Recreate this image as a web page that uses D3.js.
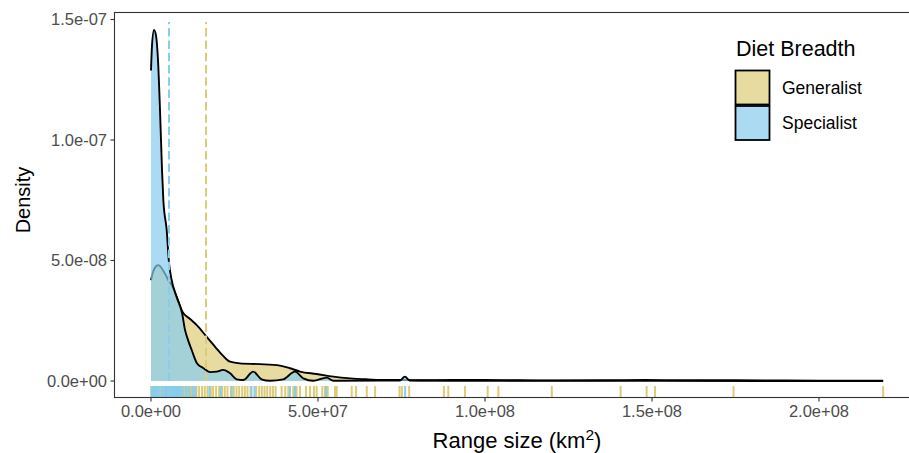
<!DOCTYPE html>
<html>
<head>
<meta charset="utf-8">
<script src="https://cdn.jsdelivr.net/npm/d3@7"></script>
<style>
  html, body { margin: 0; padding: 0; background: #fff; }
  svg { display: block; font-family: "Liberation Sans", Arial, Helvetica, sans-serif; }
</style>
</head>
<body>
<svg id="chart" width="909" height="453"></svg>
<script>
// ---- Data (x in 1e6 km^2, density in 1e-8) ----
const seriesNames = ["Generalist", "Specialist"];
const seriesColors = ["#DDCC77", "#88CCEE"];

const generalistX = [0, 0.6, 1.5, 2.2, 3.0, 3.9, 4.6, 5.2, 6.2, 7.7, 9.3, 11.7, 13.7, 16.5, 19.2, 21.6, 23.7, 26.6, 32.6, 38.6, 41.6, 44.6, 49.6, 54.6, 59.6, 64.6, 69.5, 74.5, 80, 90, 100, 110, 120, 135, 148, 160, 175, 190, 205, 219.2];
const generalistY = [4.18, 4.52, 4.76, 4.81, 4.72, 4.52, 4.35, 4.18, 3.98, 3.48, 2.90, 2.57, 2.32, 1.86, 1.42, 1.04, 0.80, 0.73, 0.70, 0.64, 0.53, 0.39, 0.29, 0.18, 0.11, 0.07, 0.045, 0.04, 0.03, 0.045, 0.04, 0.03, 0.025, 0.03, 0.045, 0.03, 0.03, 0.02, 0.015, 0.01];

const specialistX = [0, 0.3, 0.9, 1.5, 2.1, 2.7, 3.3, 3.7, 4.7, 5.4, 6.2, 7.7, 9.3, 10.2, 10.9, 12.2, 13.7, 15.6, 17.7, 19.7, 21.6, 23.7, 25.7, 27.6, 30.6, 33.1, 35.6, 39.6, 43.1, 45.6, 48.6, 52.6, 54.6, 74.5, 76.0, 77.5, 89.5, 219.2];
const specialistY = [12.88, 13.92, 14.57, 14.33, 13.30, 11.23, 8.74, 7.50, 6.26, 4.89, 4.18, 3.48, 2.82, 2.11, 1.78, 1.28, 0.75, 0.54, 0.37, 0.39, 0.46, 0.32, 0.07, 0.04, 0.39, 0.07, 0.01, 0.07, 0.39, 0.11, 0.01, 0.14, 0.01, 0.02, 0.18, 0.02, 0.01, 0.0];

const generalistRug = [0.1, 0.4, 0.9, 1.3, 1.8, 2.5, 3.1, 3.8, 4.4, 5.2, 6.0, 6.9, 7.7, 8.6, 9.4, 10.3, 11.1, 12.0, 12.9, 13.6, 14.4, 15.3, 16.1, 16.9, 17.9, 18.6, 19.5, 20.4, 21.3, 22.1, 22.9, 23.9, 24.8, 25.6, 26.4, 27.3, 28.1, 28.9, 29.8, 31.5, 32.4, 33.2, 34.0, 34.8, 35.7, 36.5, 37.3, 39.1, 40.2, 41.1, 42.6, 43.6, 44.6, 46.4, 47.6, 48.8, 49.6, 51.3, 52.1, 52.9, 55.1, 55.6, 60.1, 61.4, 64.6, 67.1, 74.4, 75.1, 77.3, 87.7, 89.0, 94.0, 100.8, 104.0, 120.0, 140.6, 148.4, 150.9, 174.4, 219.2];
const specialistRug = [0.2, 0.6, 1.0, 1.5, 2.0, 2.6, 3.3, 4.0, 4.3, 4.7, 4.9, 5.5, 5.8, 6.3, 6.6, 7.0, 7.3, 7.5, 8.0, 8.2, 8.6, 9.0, 9.8, 10.6, 11.5, 12.5, 13.3, 17.5, 20.9, 24.2, 30.1, 31.0, 41.6, 43.1, 52.4, 76.1];

const meanValues = [16.47, 5.39];   // dashed reference lines (1e6 km^2)
const xTicks = [0, 50, 100, 150, 200];          // 1e6 km^2
const yTicks = [0, 5, 10, 15];                  // 1e-8

// ---- Scales ----
const svg = d3.select("#chart");
const x = d3.scaleLinear().domain([0, 200]).range([151, 819]);
const y = d3.scaleLinear().domain([0, 15]).range([381, 19.5]);

const panel = { left: 114.5, top: 12.5, right: 930, bottom: 397.5 };

function sci(v) {
  let s = d3.format(".1e")(v);
  return s.replace(/e([+-])(\d)$/, "e$10$2");
}

svg.append("rect").attr("x", panel.left).attr("y", panel.top)
  .attr("width", panel.right - panel.left).attr("height", panel.bottom - panel.top)
  .attr("fill", "#fff");

svg.append("clipPath").attr("id", "pclip").append("rect")
  .attr("x", panel.left).attr("y", panel.top)
  .attr("width", panel.right - panel.left).attr("height", panel.bottom - panel.top);

const g = svg.append("g").attr("clip-path", "url(#pclip)");

const curves = [
  { xs: generalistX, ys: generalistY },
  { xs: specialistX, ys: specialistY }
];

const area = d3.area().curve(d3.curveMonotoneX)
  .x(d => x(d[0])).y0(y(0)).y1(d => y(d[1]));
const line = d3.line().curve(d3.curveMonotoneX)
  .x(d => x(d[0])).y(d => y(d[1]));

curves.forEach((c, i) => {
  const pts = c.xs.map((v, j) => [v, c.ys[j]]);
  g.append("path").attr("d", area(pts))
    .attr("fill", seriesColors[i]).attr("fill-opacity", 0.7).attr("stroke", "none");
  g.append("path").attr("d", line(pts))
    .attr("fill", "none").attr("stroke", "#000").attr("stroke-width", 1.9)
    .attr("stroke-linejoin", "round");
});

// dashed mean lines
meanValues.forEach((m, i) => {
  g.append("line")
    .attr("x1", x(m)).attr("x2", x(m))
    .attr("y1", y(0)).attr("y2", y(14.9))
    .attr("stroke", seriesColors[i]).attr("stroke-width", 2)
    .attr("stroke-dasharray", "8.5,3.8");
});

// rugs
const rugs = [generalistRug, specialistRug];
rugs.forEach((r, i) => {
  g.selectAll(null).data(r).enter().append("line")
    .attr("x1", d => x(d)).attr("x2", d => x(d))
    .attr("y1", panel.bottom).attr("y2", panel.bottom - 11.5)
    .attr("stroke", seriesColors[i]).attr("stroke-width", 2);
});

svg.append("rect").attr("x", panel.left).attr("y", panel.top)
  .attr("width", panel.right - panel.left).attr("height", panel.bottom - panel.top)
  .attr("fill", "none").attr("stroke", "#333333").attr("stroke-width", 1.1);

const xAxis = svg.append("g");
xTicks.forEach(t => {
  xAxis.append("line").attr("x1", x(t)).attr("x2", x(t))
    .attr("y1", panel.bottom).attr("y2", panel.bottom + 4)
    .attr("stroke", "#333333").attr("stroke-width", 1.1);
  xAxis.append("text").attr("x", x(t)).attr("y", 417)
    .attr("text-anchor", "middle").attr("font-size", 16.5).attr("fill", "#4d4d4d")
    .text(sci(t * 1e6));
});
const yAxis = svg.append("g");
yTicks.forEach(t => {
  yAxis.append("line").attr("x1", panel.left - 4).attr("x2", panel.left)
    .attr("y1", y(t)).attr("y2", y(t))
    .attr("stroke", "#333333").attr("stroke-width", 1.1);
  yAxis.append("text").attr("x", 107).attr("y", y(t)).attr("dy", "0.36em")
    .attr("text-anchor", "end").attr("font-size", 16.5).attr("fill", "#4d4d4d")
    .text(sci(t * 1e-8));
});

const xt = svg.append("text").attr("x", 517).attr("y", 448)
  .attr("text-anchor", "middle").attr("font-size", 22).attr("fill", "#000");
xt.append("tspan").text("Range size (km");
xt.append("tspan").attr("font-size", 15.5).attr("dy", -8).text("2");
xt.append("tspan").attr("dy", 8).text(")");

svg.append("text").attr("transform", "translate(30,200) rotate(-90)")
  .attr("text-anchor", "middle").attr("font-size", 20).attr("fill", "#000")
  .text("Density");

const lg = svg.append("g");
lg.append("text").attr("x", 736).attr("y", 56).attr("font-size", 21.5).attr("fill", "#000")
  .text("Diet Breadth");
seriesNames.forEach((n, i) => {
  const ky = 70 + i * 35.5;
  lg.append("rect").attr("x", 735.5).attr("y", ky + 0.5).attr("width", 34).attr("height", 34)
    .attr("fill", "#fff");
  lg.append("rect").attr("x", 735.5).attr("y", ky + 0.5).attr("width", 34).attr("height", 34)
    .attr("fill", seriesColors[i]).attr("fill-opacity", 0.7)
    .attr("stroke", "#000").attr("stroke-width", 1.8);
  lg.append("text").attr("x", 782).attr("y", ky + 17.5).attr("dy", "0.36em")
    .attr("font-size", 17.5).attr("fill", "#000").text(n);
});
</script>
</body>
</html>
